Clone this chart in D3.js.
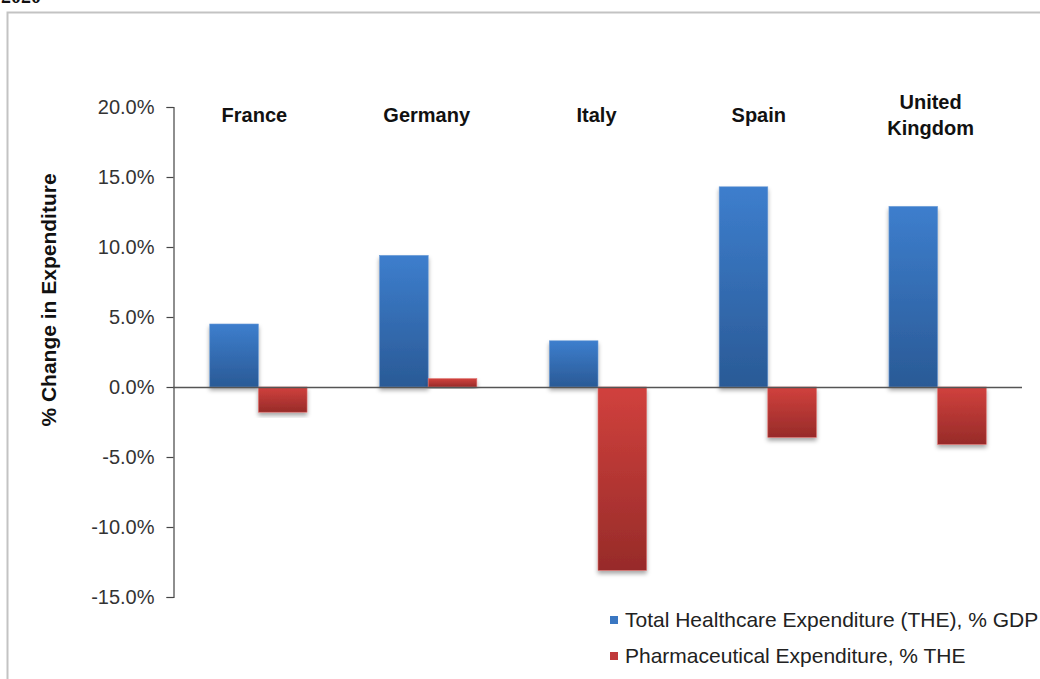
<!DOCTYPE html>
<html>
<head>
<meta charset="utf-8">
<script src="https://cdn.jsdelivr.net/npm/d3@7"></script>
<style>
html,body{margin:0;padding:0;background:#fff;overflow:hidden;}
svg{display:block;}
</style>
</head>
<body>
<svg id="chart" width="1040" height="679"></svg>
<script>
// ---- data ----
const categories = ["France", "Germany", "Italy", "Spain", "United Kingdom"];
const categoryLines = [["France"], ["Germany"], ["Italy"], ["Spain"], ["United", "Kingdom"]];
const seriesNames = ["Total Healthcare Expenditure (THE), % GDP", "Pharmaceutical Expenditure, % THE"];
const totalHealthcare = [4.5, 9.4, 3.3, 14.3, 12.9];
const pharmaceutical = [-1.8, 0.6, -13.1, -3.6, -4.1];
const yTicks = [20, 15, 10, 5, 0, -5, -10, -15];
const yTitle = "% Change in Expenditure";

// layout nudges for the category labels (pixels)
const labelNudge = [-3.5, -1, -1, -8.5, -6.5];

const svg = d3.select("#chart");
const defs = svg.append("defs");
const FONT = "Liberation Sans, Arial, sans-serif";

// gradients
const grads = [
  {id: "gBlue", top: "#3d7ecd", bottom: "#2a5a96"},
  {id: "gRed", top: "#d1413d", bottom: "#972b29"}
];
grads.forEach(g => {
  const lg = defs.append("linearGradient").attr("id", g.id)
    .attr("x1", 0).attr("y1", 0).attr("x2", 0).attr("y2", 1);
  lg.append("stop").attr("offset", "0%").attr("stop-color", g.top);
  lg.append("stop").attr("offset", "100%").attr("stop-color", g.bottom);
});
const f = defs.append("filter").attr("id", "shadow")
  .attr("x", "-20%").attr("y", "-20%").attr("width", "140%").attr("height", "140%");
f.append("feDropShadow").attr("dx", 0).attr("dy", 3).attr("stdDeviation", 2.2)
  .attr("flood-color", "#000").attr("flood-opacity", 0.35);

// partial title at very top (cut off in the reference)
svg.append("text").attr("x", 1).attr("y", 3)
  .attr("font-family", "Liberation Serif, serif").attr("font-weight", "bold")
  .attr("font-size", 20).attr("fill", "#111").text("2020");

// frame
svg.append("path")
  .attr("d", "M7.5,690 L7.5,12.5 L1050,12.5")
  .attr("fill", "none").attr("stroke", "#c3c3c3").attr("stroke-width", 2);

// scales
const y = d3.scaleLinear().domain([-15, 20]).range([597, 107]);
const x0 = d3.scaleBand().domain(categories).range([173, 1022]).padding(0);
const bw = x0.bandwidth();
const barW = bw * 0.2865;
const x1 = d3.scaleBand().domain(seriesNames)
  .range([bw / 2 - barW, bw / 2 + barW]).padding(0);

const colors = ["url(#gBlue)", "url(#gRed)"];
const strokeCols = ["#6a9ad6", "#e07270"];
const seriesValues = [totalHealthcare, pharmaceutical];

// bars
const g = svg.append("g");
seriesNames.forEach((s, si) => {
  g.selectAll(".bar" + si)
    .data(categories.map((c, i) => ({c, v: seriesValues[si][i]})))
    .join("rect")
    .attr("x", d => x0(d.c) + x1(s) + 0.5)
    .attr("width", x1.bandwidth())
    .attr("y", d => y(Math.max(0, d.v)))
    .attr("height", d => Math.abs(y(d.v) - y(0)))
    .attr("fill", colors[si])
    .attr("stroke", strokeCols[si])
    .attr("stroke-width", 0.6)
    .attr("filter", "url(#shadow)");
});

// y axis
const yAxis = d3.axisLeft(y).tickValues(yTicks)
  .tickFormat(d => d3.format(".1f")(d).replace("\u2212", "-") + "%")
  .tickSize(7).tickPadding(12);
const ax = svg.append("g").attr("transform", "translate(173.5,0)").call(yAxis);
ax.select(".domain").attr("stroke", "#444").attr("stroke-width", 1.2);
ax.selectAll(".tick line").attr("stroke", "#444").attr("stroke-width", 1.2);
ax.selectAll(".tick text")
  .attr("font-family", FONT)
  .attr("font-size", 20).attr("fill", "#333");

// zero line
svg.append("line")
  .attr("x1", 173).attr("x2", 1022)
  .attr("y1", y(0) + 0.5).attr("y2", y(0) + 0.5)
  .attr("stroke", "#555").attr("stroke-width", 1.6);

// y title
svg.append("text")
  .attr("transform", `translate(56,300) rotate(-90)`)
  .attr("text-anchor", "middle")
  .attr("font-family", FONT)
  .attr("font-weight", "bold").attr("font-size", 21).attr("fill", "#111")
  .text(yTitle);

// category labels
categories.forEach((c, i) => {
  const lines = categoryLines[i];
  const t = svg.append("text")
    .attr("text-anchor", "middle")
    .attr("font-family", FONT)
    .attr("font-weight", "bold").attr("font-size", 20).attr("fill", "#111");
  const cx = x0(c) + bw / 2 + labelNudge[i];
  if (lines.length === 1) {
    t.append("tspan").attr("x", cx).attr("y", 122).text(lines[0]);
  } else {
    t.append("tspan").attr("x", cx).attr("y", 109).text(lines[0]);
    t.append("tspan").attr("x", cx).attr("y", 135).text(lines[1]);
  }
});

// legend
const legColors = ["#3a77c2", "#c0393a"];
seriesNames.forEach((s, i) => {
  const ly = 620 + i * 36;
  svg.append("rect").attr("x", 610).attr("y", ly - 4).attr("width", 8).attr("height", 8)
    .attr("fill", legColors[i]);
  svg.append("text").attr("x", 625).attr("y", ly + 7)
    .attr("font-family", FONT)
    .attr("font-size", 21).attr("fill", "#222").text(s);
});
</script>
</body>
</html>
